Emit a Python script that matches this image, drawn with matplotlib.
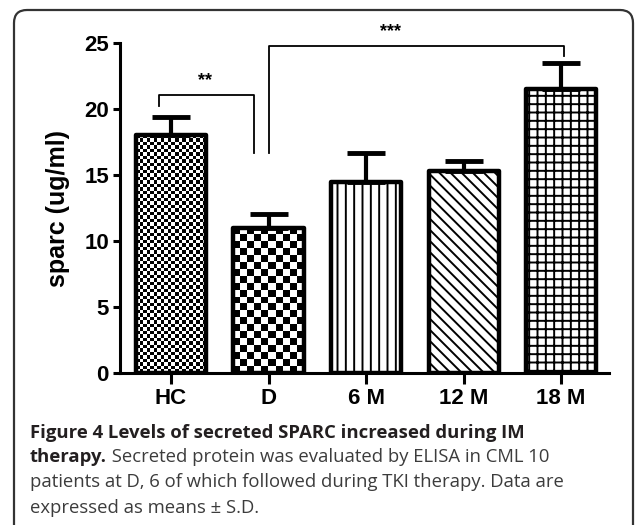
import numpy as np
import matplotlib
matplotlib.use("Agg")
import matplotlib.pyplot as plt
from matplotlib.patches import FancyBboxPatch

# ---------------------------------------------------------
# données
# ---------------------------------------------------------
groups = ["HC", "D", "6 M", "12 M", "18 M"]
means = [18.0, 11.0, 14.5, 15.3, 21.5]
sds = [1.4, 1.05, 2.2, 0.8, 2.0]
hatches = [None, None, "||", "\\\\\\", "++"]
checker_cells = [20, 10, 0, 0, 0]   # cases de damier sur la largeur (0 = hachures)

y_ticks = [0, 5, 10, 15, 20, 25]
ylabel = "sparc (ug/ml)"

caption_bold1 = "Figure 4 Levels of secreted SPARC increased during IM"
caption_bold2 = "therapy."
caption_rest2 = " Secreted protein was evaluated by ELISA in CML 10"
caption_line3 = "patients at D, 6 of which followed during TKI therapy. Data are"
caption_line4 = "expressed as means \u00b1 S.D."

# ---------------------------------------------------------
# figure
# ---------------------------------------------------------
plt.rcParams["hatch.linewidth"] = 1.4
plt.rcParams["font.family"] = ["Liberation Sans", "DejaVu Sans"]

fig = plt.figure(figsize=(6.35, 5.25), dpi=100)
ax = fig.add_axes([0.189, 0.2895, 0.770, 0.6285])

x = np.arange(len(groups))
width = 0.72

bars = ax.bar(x, means, width=width, color="white", edgecolor="black",
              linewidth=0, zorder=2)
for b, h in zip(bars, hatches):
    if h:
        b.set_hatch(h)

ax.set_xlim(-0.523, 4.49)
ax.set_ylim(0, 25)

# damiers (HC fin, D gros)
for b, n in zip(bars, checker_cells):
    if n == 0:
        continue
    x0, y0 = b.get_x(), b.get_y()
    w, h = b.get_width(), b.get_height()
    px_w = ax.transData.transform((x0 + w, 0))[0] - ax.transData.transform((x0, 0))[0]
    px_h = ax.transData.transform((0, h))[1] - ax.transData.transform((0, 0))[1]
    ny = int(round(px_h / (px_w / n)))
    ii, jj = np.indices((ny, n))
    board = (ii + jj) % 2
    im = ax.imshow(board, cmap="gray", extent=(x0, x0 + w, y0, y0 + h),
                   interpolation="nearest", aspect="auto", zorder=2.2)
    im.set_clip_path(b)

# contours épais
ax.bar(x, means, width=width, fill=False, edgecolor="black", linewidth=3.2,
       joinstyle="round", zorder=3)

# barres d'erreur (côté supérieur seulement)
ax.errorbar(x, means, yerr=[np.zeros(len(sds)), sds], fmt="none",
            ecolor="black", elinewidth=3, capsize=13.5, capthick=3.5, zorder=3)

ax.set_xlim(-0.523, 4.49)
ax.set_ylim(0, 25)

# axes
for s in ["top", "right"]:
    ax.spines[s].set_visible(False)
ax.spines["left"].set_linewidth(2.2)
ax.spines["bottom"].set_linewidth(2.2)
ax.set_yticks(y_ticks)
ax.set_xticks(x)
ax.set_xticklabels(groups)
ax.tick_params(axis="y", length=5, width=2.2, labelsize=16, pad=3)
ax.tick_params(axis="x", length=8, width=2.2, labelsize=16, pad=3)
for lab in ax.get_xticklabels() + ax.get_yticklabels():
    lab.set_fontweight("bold")
ax.set_ylabel(ylabel, fontsize=18, fontweight="bold", labelpad=10)

# crochets de significativité
lw_b = 1.3
ax.plot([-0.12, -0.12, 0.85, 0.85], [20.2, 21.1, 21.1, 16.7], color="black",
        lw=lw_b, clip_on=False, zorder=4)
ax.text(0.35, 21.5, "**", ha="center", va="bottom", fontsize=13,
        fontweight="bold")
ax.plot([1.0, 1.0, 4.03, 4.03], [16.7, 24.8, 24.8, 24.0], color="black",
        lw=lw_b, clip_on=False, zorder=4)
ax.text(2.25, 25.2, "***", ha="center", va="bottom", fontsize=13,
        fontweight="bold")

# cadre arrondi
frame = FancyBboxPatch((0.14, -0.5), 6.19, 5.65,
                       boxstyle="round,pad=0,rounding_size=0.13",
                       transform=fig.dpi_scale_trans, fill=False,
                       edgecolor="#333333", linewidth=1.6)
fig.patches.append(frame)

# légende de la figure
cap_kw = dict(family=["Open Sans", "DejaVu Sans"], fontsize=13.3)
fig.text(30 / 635, 1 - 438 / 525, caption_bold1, fontweight="bold",
         color="#231f20", va="baseline", **cap_kw)
t2 = fig.text(30 / 635, 1 - 462 / 525, caption_bold2, fontweight="bold",
              color="#231f20", va="baseline", **cap_kw)
ax.annotate(caption_rest2, xy=(1, 0), xycoords=t2, ha="left", va="bottom",
            color="#3c3c3c", annotation_clip=False, **cap_kw)
fig.text(30 / 635, 1 - 487 / 525, caption_line3, color="#3c3c3c",
         va="baseline", **cap_kw)
fig.text(30 / 635, 1 - 513 / 525, caption_line4, color="#3c3c3c",
         va="baseline", **cap_kw)

fig.savefig("out.png", dpi=100)
